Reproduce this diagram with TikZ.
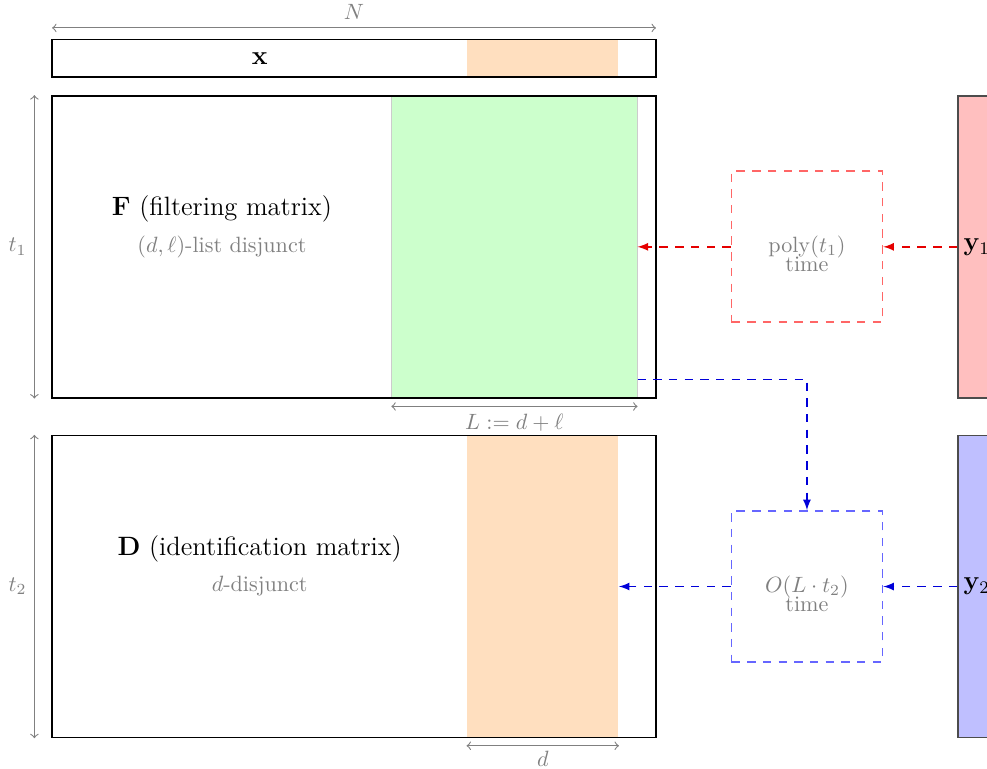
\documentclass[tikz,border=0pt]{standalone}
\usepackage{amsmath}
\usepackage{amsfonts}
\usetikzlibrary{arrows}

\begin{document}
\begin{tikzpicture}[x=0.6cm, y=0.6cm, line width=0.65pt,
	frame/.style = {draw, minimum width=9.6cm, inner sep=0pt},
	strip/.style = {minimum height=4.8cm, inner sep=0pt},
	dim/.style = {gray, line width=0.5pt, <->},
	dimlabel/.style = {gray},
	note/.style = {gray, align=center},
	timebox/.style = {line width=0.8pt, dash pattern=on 3.8pt off 3.3pt, minimum width=2.4cm, minimum height=2.4cm, text=gray},
	vec/.style = {draw=black!70, minimum width=0.6cm, minimum height=4.8cm, inner sep=0pt},
	redline/.style = {draw=red!90!black, dash pattern=on 3.8pt off 3.3pt, -latex},
	blueline/.style = {draw=blue!85!black, dash pattern=on 3.8pt off 3.3pt, -latex}]
	\clip (-1.38,-9.83) rectangle (24.77,10.54);

	% input vector
	\node[strip, fill=orange!25, minimum width=2.4cm, minimum height=0.6cm] (xpart) at (13,9) {};
	\node[frame, minimum height=0.6cm] (x) at (8,9) {};
	\node[font=\large] (xlabel) at (5.5,9) {$\mathbf{x}$};
	\coordinate (nl) at (0,9.8);
	\coordinate (nr) at (16,9.8);
	\draw[dim] (nl) -- node[above, dimlabel] {$N$} (nr);

	% filtering matrix
	\node[strip, fill=green!20, draw=gray!40, line width=0.4pt, minimum width=3.9cm] (green) at (12.25,4) {};
	\node[frame, minimum height=4.8cm] (F) at (8,4) {};
	\node[font=\large] (Ftitle) at (4.5,5) {$\mathbf{F}$ (filtering matrix)};
	\node[note] (Fnote) at (4.5,4) {$(d,\ell)$-list disjunct};
	\draw[dim] ([xshift=-0.27cm]F.north west) -- node[left, dimlabel] {$t_1$} ([xshift=-0.27cm]F.south west);
	\draw[dim] ([yshift=-0.13cm]green.south west) -- node[below, dimlabel] {$L := d + \ell$} ([yshift=-0.13cm]green.south east);
	\coordinate (fork) at ([yshift=0.3cm]green.south east);

	% identification matrix
	\node[strip, fill=orange!25, minimum width=2.4cm] (orange) at (13,-5) {};
	\node[frame, minimum height=4.8cm] (D) at (8,-5) {};
	\node[font=\large] (Dtitle) at (5.5,-4) {$\mathbf{D}$ (identification matrix)};
	\node[note] (Dnote) at (5.5,-5) {$d$-disjunct};
	\draw[dim] ([xshift=-0.27cm]D.north west) -- node[left, dimlabel] {$t_2$} ([xshift=-0.27cm]D.south west);
	\draw[dim] ([yshift=-0.12cm]orange.south west) -- node[below, dimlabel, inner sep=2pt] {$d$} ([yshift=-0.12cm]orange.south east);

	% decoding steps
	\node[timebox, draw=red!60] (poly) at (20,4) {$\mathrm{poly}(t_1)$};
	\node[note] (polytime) at ([yshift=-0.28cm]poly.center) {time};
	\node[timebox, draw=blue!60] (lin) at (20,-5) {$O(L \cdot t_2)$};
	\node[note] (lintime) at ([yshift=-0.28cm]lin.center) {time};

	\node[vec, fill=red!25, font=\large] (y1) at (24.5,4) {$\mathbf{y}_1$};
	\node[vec, fill=blue!25, font=\large] (y2) at (24.5,-5) {$\mathbf{y}_2$};

	\draw[redline] (y1) -- (poly);
	\draw[redline] (poly) -- (green.east);
	\draw[blueline] (y2) -- (lin);
	\draw[blueline] (lin) -- (orange.east);
	\draw[blueline] (fork) -| (lin.north);
\end{tikzpicture}
\end{document}
